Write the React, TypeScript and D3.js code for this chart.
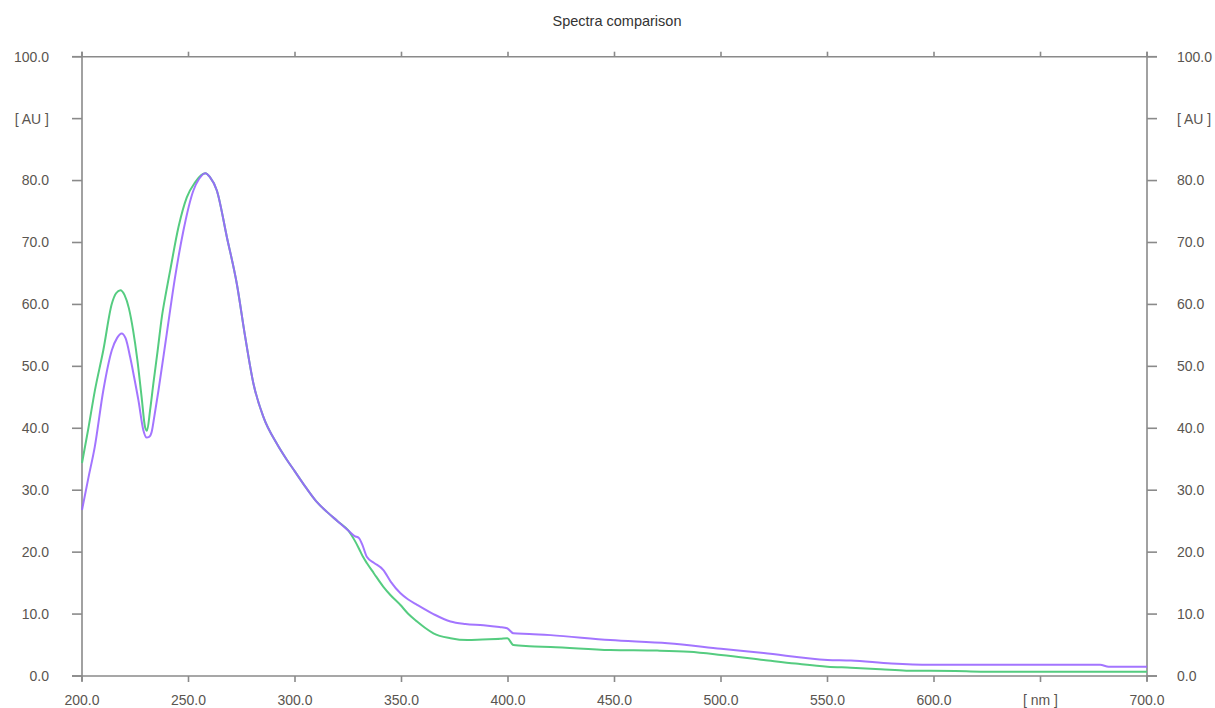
import React from "react";
import * as d3 from "d3";

const TITLE = "Spectra comparison";
const X_TICKS = [200, 250, 300, 350, 400, 450, 500, 550, 600, 650, 700];
const Y_TICKS = [0, 10, 20, 30, 40, 50, 60, 70, 80, 90, 100];
const X_UNIT = "[ nm ]";
const Y_UNIT = "[ AU ]";

// Spectrum 1 (green): [wavelength nm, absorbance AU]
const greenSpectrum: [number, number][] = [
  [200, 34.4], [203, 40], [206, 46], [210, 52.6], [214, 60.1], [216, 61.8], [218, 62.3],
  [220, 61.5], [222, 59.4], [224, 55.8], [226, 51], [228, 45], [229.6, 40.2], [230.5, 39.6],
  [232, 43], [233.5, 47.2], [235.5, 52.5], [237.5, 58], [239.5, 62], [241.4, 65.5],
  [245.3, 72.5], [249.2, 77.3], [253.1, 79.7], [256, 80.9], [258, 81.2], [260, 80.6],
  [263.3, 78.4], [268, 70.9], [272.7, 63.3], [276.6, 54.8], [280.5, 47.2], [285.2, 41.8],
  [291.5, 37.5], [296, 35], [300, 33.0], [305, 30.5], [310, 28.2], [315, 26.5], [320, 25],
  [325, 23.5], [328, 21.9], [330, 20.6], [332, 19.2], [333.8, 18.2], [337, 16.6],
  [341.5, 14.4], [345, 13], [349.4, 11.5], [353, 10.1], [357.3, 8.8], [361, 7.8], [365, 6.9],
  [373, 6.1], [381, 5.8], [388, 5.9], [396.4, 6.0], [399.7, 6.1], [402.5, 5.0], [410, 4.8],
  [420, 4.7], [448, 4.2], [470, 4.1], [485, 3.9], [500, 3.4], [520, 2.6], [535, 2.0],
  [550, 1.5], [561, 1.35], [575, 1.1], [587, 0.86], [610, 0.8], [622, 0.7], [700, 0.7],
];

// Spectrum 2 (purple): [wavelength nm, absorbance AU]
const purpleSpectrum: [number, number][] = [
  [200, 26.8], [203, 32], [206, 37], [210, 46.1], [214, 52.6], [216.5, 54.6], [218.6, 55.3],
  [220.5, 54.5], [222.6, 51.5], [224.5, 48.2], [226.5, 44.5], [228.8, 39.7], [230.4, 38.5],
  [231.5, 38.6], [232.7, 39.4], [234, 42], [235.9, 46.1], [239.8, 55.3], [243.7, 64.4],
  [247.6, 71.9], [252.3, 78.4], [255, 80.3], [257.8, 81.2], [260, 80.6], [263.3, 78.4],
  [268, 70.9], [272.7, 63.3], [276.6, 54.8], [280.5, 47.2], [285.2, 41.8], [291.5, 37.5],
  [296, 35], [300, 33.0], [305, 30.5], [310, 28.2], [315, 26.5], [320, 25], [325, 23.5],
  [328, 22.6], [330, 22.3], [331.5, 21.3], [333.8, 19.2], [337, 18.3], [341.5, 17.1],
  [345, 15.2], [349.4, 13.4], [353, 12.4], [357.3, 11.5], [365, 10], [373, 8.8], [380, 8.4],
  [388.5, 8.2], [396, 7.9], [399.6, 7.7], [402.5, 6.9], [410, 6.8], [420, 6.6], [448, 5.8],
  [475, 5.3], [500, 4.4], [520, 3.7], [550, 2.6], [561, 2.5], [580, 2.0], [598.5, 1.8],
  [650, 1.8], [678, 1.8], [682, 1.5], [700, 1.5],
];

const AXIS = "#8a8a8a";
const TEXT = "#5a5550";
const FONT = "'Liberation Sans', Arial, sans-serif";

export default function App() {
  const left = 82, right = 1147, top = 56.7, bottom = 676;
  const x = d3.scaleLinear().domain([200, 700]).range([left, right]);
  const y = d3.scaleLinear().domain([0, 100]).range([bottom, top]);
  const line = d3
    .line<[number, number]>()
    .x((d) => x(d[0]))
    .y((d) => y(d[1]))
    .curve(d3.curveMonotoneX);

  const fmt = (v: number) => v.toFixed(1);

  return (
    <svg
      width={1215}
      height={708}
      style={{ position: "absolute", left: 0, top: 0, background: "#fff" }}
      fontFamily={FONT}
    >
      <text x={617} y={26} textAnchor="middle" fontSize={14.5} fill="#333">
        {TITLE}
      </text>

      {/* frame */}
      <line x1={left - 10} x2={right + 10} y1={top} y2={top} stroke={AXIS} strokeWidth={1.6} />
      <line x1={left - 10} x2={right + 10} y1={bottom} y2={bottom} stroke={AXIS} strokeWidth={1.6} />
      <line x1={left} x2={left} y1={top - 5} y2={bottom + 5} stroke={AXIS} strokeWidth={1.6} />
      <line x1={right} x2={right} y1={top - 5} y2={bottom + 5} stroke={AXIS} strokeWidth={1.6} />

      {/* y ticks */}
      {Y_TICKS.map((t) => (
        <g key={"y" + t}>
          <line x1={left - 10} x2={left} y1={y(t)} y2={y(t)} stroke={AXIS} strokeWidth={1.6} />
          <line x1={right} x2={right + 10} y1={y(t)} y2={y(t)} stroke={AXIS} strokeWidth={1.6} />
          <text x={49} y={y(t)} dy="0.35em" textAnchor="end" fontSize={14} fill={TEXT}>
            {t === 90 ? Y_UNIT : fmt(t)}
          </text>
          <text x={1177} y={y(t)} dy="0.35em" textAnchor="start" fontSize={14} fill={TEXT}>
            {t === 90 ? Y_UNIT : fmt(t)}
          </text>
        </g>
      ))}

      {/* x ticks */}
      {X_TICKS.map((t) => (
        <g key={"x" + t}>
          <line x1={x(t)} x2={x(t)} y1={top - 5} y2={top} stroke={AXIS} strokeWidth={1.6} />
          <line x1={x(t)} x2={x(t)} y1={bottom} y2={bottom + 6} stroke={AXIS} strokeWidth={1.6} />
          <text x={x(t)} y={705} textAnchor="middle" fontSize={14} fill={TEXT}>
            {t === 650 ? X_UNIT : fmt(t)}
          </text>
        </g>
      ))}

      <path d={line(greenSpectrum) || ""} fill="none" stroke="#55cc80" strokeWidth={2} />
      <path d={line(purpleSpectrum) || ""} fill="none" stroke="#9966ff" strokeWidth={2} strokeOpacity={0.9} />
    </svg>
  );
}
